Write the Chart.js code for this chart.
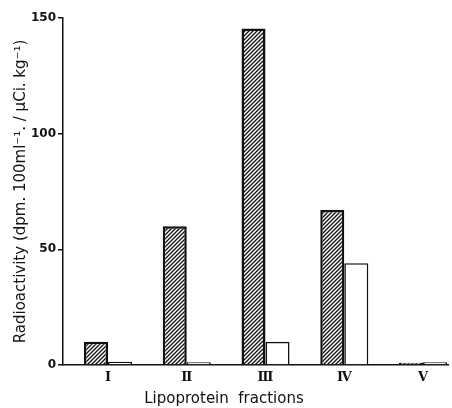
<!DOCTYPE html>
<html>
<head>
<meta charset="utf-8">
<script src="https://cdn.jsdelivr.net/npm/chart.js@4"></script>
<style>
  html, body { margin: 0; padding: 0; background: #fff; }
  #wrap { width: 452px; height: 408px; }
</style>
</head>
<body>
<div id="wrap"><canvas id="chart" width="452" height="408"></canvas></div>
<script>
// Lipoprotein fractions I-V, two series per fraction
const fractions = ['Ⅰ', 'Ⅱ', 'Ⅲ', 'Ⅳ', 'Ⅴ'];
const hatchedValues = [10, 60, 145.5, 67, 1.0];
const openValues = [1.4, 1.2, 10, 44, 1.2];
const yTicks = [0, 50, 100, 150];

// diagonal hatching for the filled bars
function makeHatch() {
  const c = document.createElement('canvas');
  c.width = 4; c.height = 4;
  const g = c.getContext('2d');
  g.fillStyle = '#fff';
  g.fillRect(0, 0, 4, 4);
  g.strokeStyle = '#111';
  g.lineWidth = 1.3;
  g.beginPath();
  g.moveTo(0, 4); g.lineTo(4, 0);
  g.moveTo(-1, 1); g.lineTo(1, -1);
  g.moveTo(3, 5); g.lineTo(5, 3);
  g.stroke();
  return g.createPattern(c, 'repeat');
}

const ctx = document.getElementById('chart').getContext('2d');
const hatch = makeHatch();

new Chart(ctx, {
  type: 'bar',
  data: {
    datasets: [
      {
        data: hatchedValues.map((v, i) => ({ x: i + 1, y: v })),
        backgroundColor: hatch,
        borderColor: '#111',
        borderWidth: 2.5
      },
      {
        data: openValues.map((v, i) => ({ x: i + 1, y: v })),
        backgroundColor: '#fff',
        borderColor: '#111',
        borderWidth: 1.6
      }
    ]
  },
  options: {
    responsive: false,
    animation: false,
    events: [],
    layout: { padding: { top: 18, right: 4, left: 0, bottom: 0 } },
    datasets: { bar: { barPercentage: 1, categoryPercentage: 0.61 } },
    plugins: {
      legend: { display: false },
      tooltip: { enabled: false },
      title: {
        display: true,
        position: 'bottom',
        text: 'Lipoprotein  fractions',
        color: '#111',
        font: { family: 'DejaVu Sans', size: 15, weight: 'normal' },
        padding: { top: 1, bottom: 0 }
      }
    },
    scales: {
      x: {
        type: 'linear',
        offset: false,
        min: 0.4286,
        max: 5.317,
        afterBuildTicks: (scale) => {
          scale.ticks = fractions.map((f, i) => ({ value: i + 1 }));
        },
        afterFit: (scale) => { scale.height = 24; },
        grid: { display: false, drawTicks: false, offset: false },
        border: { display: true, color: '#111', width: 1.5 },
        ticks: {
          autoSkip: false,
          maxRotation: 0,
          padding: 5,
          color: '#111',
          font: { family: 'DejaVu Serif', size: 13, weight: 'bold' },
          callback: (v) => fractions[v - 1] || ''
        }
      },
      y: {
        min: 0,
        max: 150,
        afterBuildTicks: (scale) => {
          scale.ticks = yTicks.map(v => ({ value: v }));
        },
        afterFit: (scale) => { scale.width = 63; },
        grid: { drawOnChartArea: false, drawTicks: true, tickLength: 5, color: '#111', lineWidth: 1.5 },
        border: { display: true, color: '#111', width: 1.5 },
        ticks: {
          padding: 2,
          color: '#111',
          font: { family: 'DejaVu Sans', size: 12, weight: 'bold' }
        },
        title: {
          display: true,
          text: 'Radioactivity (dpm. 100ml⁻¹. / µCi. kg⁻¹)',
          color: '#111',
          font: { family: 'DejaVu Sans', size: 15, weight: 'normal' },
          padding: { top: 12, bottom: 0 }
        }
      }
    }
  }
});
</script>
</body>
</html>
